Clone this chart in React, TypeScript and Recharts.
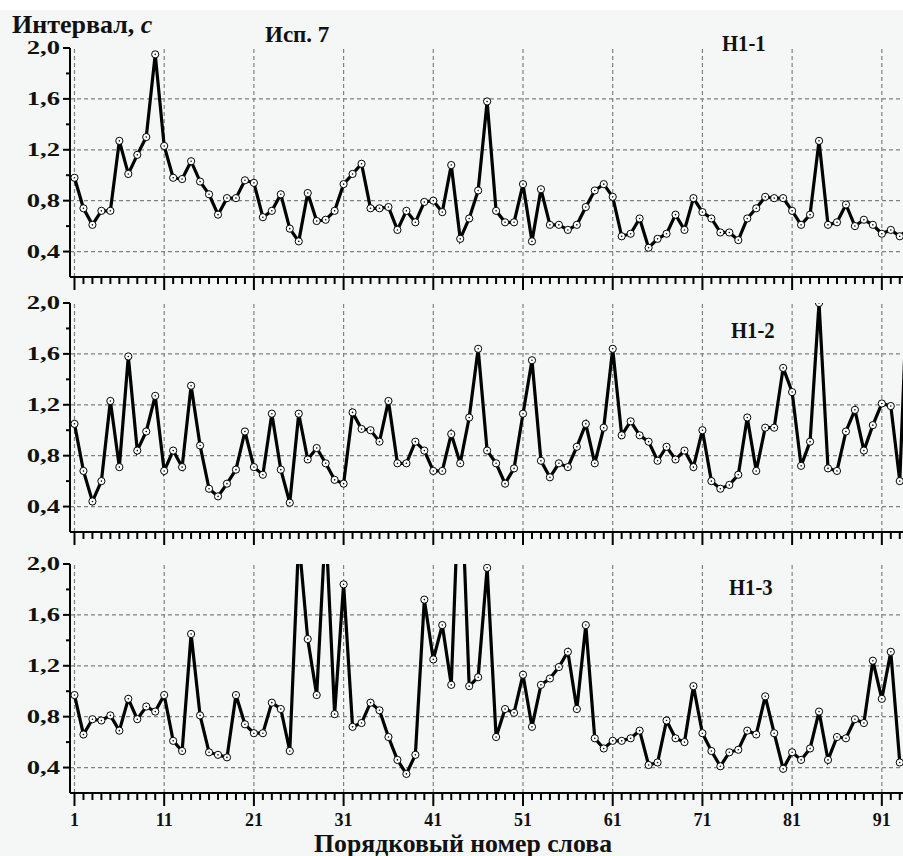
import React from 'react';
import { LineChart, Line, XAxis, YAxis, ReferenceLine } from 'recharts';

// Интервалы между словами, с (порядковый номер слова 1..)
const h11 = [
  0.98, 0.74, 0.61, 0.72, 0.72, 1.27, 1.01, 1.16, 1.30, 1.95,
  1.23, 0.98, 0.97, 1.11, 0.95, 0.85, 0.69, 0.82, 0.82, 0.96,
  0.94, 0.67, 0.72, 0.85, 0.58, 0.48, 0.86, 0.64, 0.65, 0.72,
  0.93, 1.01, 1.09, 0.74, 0.74, 0.75, 0.57, 0.72, 0.63, 0.79,
  0.80, 0.71, 1.08, 0.50, 0.66, 0.88, 1.58, 0.72, 0.63, 0.63,
  0.93, 0.48, 0.89, 0.61, 0.61, 0.57, 0.61, 0.75, 0.88, 0.93,
  0.83, 0.52, 0.54, 0.66, 0.43, 0.50, 0.54, 0.69, 0.57, 0.82,
  0.71, 0.66, 0.55, 0.55, 0.49, 0.66, 0.74, 0.83, 0.82, 0.82,
  0.72, 0.61, 0.69, 1.27, 0.61, 0.63, 0.77, 0.60, 0.65, 0.61,
  0.54, 0.57, 0.52, 0.58,
];

const h12 = [
  1.05, 0.68, 0.44, 0.60, 1.23, 0.71, 1.58, 0.84, 0.99, 1.27,
  0.68, 0.84, 0.71, 1.35, 0.88, 0.54, 0.48, 0.58, 0.69, 0.99,
  0.71, 0.65, 1.13, 0.69, 0.43, 1.13, 0.77, 0.86, 0.74, 0.61,
  0.58, 1.14, 1.01, 1.00, 0.91, 1.23, 0.74, 0.74, 0.91, 0.84,
  0.68, 0.68, 0.97, 0.74, 1.10, 1.64, 0.84, 0.74, 0.58, 0.70,
  1.13, 1.55, 0.76, 0.63, 0.74, 0.71, 0.87, 1.05, 0.74, 1.02,
  1.64, 0.96, 1.07, 0.96, 0.91, 0.76, 0.87, 0.77, 0.84, 0.71,
  1.00, 0.60, 0.54, 0.57, 0.65, 1.10, 0.68, 1.02, 1.02, 1.49,
  1.30, 0.72, 0.91, 2.00, 0.70, 0.68, 0.99, 1.16, 0.84, 1.04,
  1.21, 1.19, 0.60, 2.40,
];

const h13 = [
  0.97, 0.66, 0.78, 0.77, 0.81, 0.69, 0.94, 0.78, 0.88, 0.84,
  0.97, 0.61, 0.53, 1.45, 0.81, 0.52, 0.50, 0.48, 0.97, 0.74,
  0.67, 0.67, 0.91, 0.86, 0.53, 2.20, 1.41, 0.97, 2.33, 0.82,
  1.84, 0.72, 0.75, 0.91, 0.85, 0.64, 0.46, 0.35, 0.50, 1.72,
  1.25, 1.52, 1.05, 2.90, 1.04, 1.11, 1.97, 0.64, 0.86, 0.83,
  1.13, 0.72, 1.05, 1.10, 1.19, 1.31, 0.86, 1.52, 0.63, 0.55,
  0.61, 0.61, 0.63, 0.69, 0.42, 0.44, 0.77, 0.63, 0.60, 1.04,
  0.67, 0.53, 0.41, 0.52, 0.54, 0.69, 0.66, 0.96, 0.67, 0.39,
  0.52, 0.46, 0.55, 0.84, 0.46, 0.64, 0.63, 0.78, 0.75, 1.24,
  0.94, 1.31, 0.44,
];

const xTicks = Array.from({ length: 93 }, (_, k) => k + 1);
const xGrid = [1, 11, 21, 31, 41, 51, 61, 71, 81, 91];
const yTicks = [0.4, 0.6, 0.8, 1.0, 1.2, 1.4, 1.6, 1.8, 2.0];
const yGrid = [0.4, 0.8, 1.2, 1.6];

const FONT = '"Liberation Serif", "Times New Roman", serif';
const INK = '#111';

const toRows = (vals: number[]) => vals.map((v, k) => ({ i: k + 1, v }));

const XTick = (props: any) => {
  const { x, y, payload, labels } = props;
  const major = (payload.value - 1) % 10 === 0;
  return (
    <g>
      <line x1={x} x2={x} y1={y} y2={y + (major ? 13 : 7)} stroke="#000" strokeWidth={2} />
      {labels && major && (
        <text x={x} y={y + 33} textAnchor="middle" fontFamily={FONT} fontWeight="bold" fontSize={18} fill={INK}>
          {payload.value}
        </text>
      )}
    </g>
  );
};

const YTick = (props: any) => {
  const { x, y, payload } = props;
  const major = Math.round(payload.value * 10) % 4 === 0;
  return (
    <g>
      <line x1={x - (major ? 7 : 4)} x2={x} y1={y} y2={y} stroke="#000" strokeWidth={2} />
      {major && (
        <text
          transform={`translate(${x - 10},${y}) scale(1.44,1)`}
          dy="0.35em"
          textAnchor="end"
          fontFamily={FONT}
          fontWeight="bold"
          fontSize={18.5}
          fill={INK}
        >
          {payload.value.toFixed(1).replace('.', ',')}
        </text>
      )}
    </g>
  );
};

const renderDot = (p: any) => {
  if (p.cx == null || p.cy == null) return <g key={`d${p.index}`} />;
  return (
    <g key={`d${p.index}`}>
      <circle cx={p.cx} cy={p.cy} r={3.6} fill="#fff" stroke="#000" strokeWidth={1} />
      <circle cx={p.cx} cy={p.cy} r={0.8} fill="#000" />
    </g>
  );
};

const Panel = ({ vals, top, labels }: { vals: number[]; top: number; labels?: boolean }) => {
  const axisH = labels ? 50 : 22;
  return (
    <div style={{ position: 'absolute', left: 0, top: top - 40 }}>
      <LineChart width={903} height={40 + 229 + axisH} data={toRows(vals)} margin={{ top: 40, right: 0, left: 0, bottom: 0 }}>
        {yGrid.map(v => (
          <ReferenceLine key={`gy${v}`} y={v} stroke="#808080" strokeWidth={1.2} strokeDasharray="4 3" />
        ))}
        {xGrid.map(v => (
          <ReferenceLine key={`gx${v}`} x={v} stroke="#808080" strokeWidth={1.2} strokeDasharray="4 3" />
        ))}
        <XAxis
          type="number"
          dataKey="i"
          domain={[0.5, 93.36]}
          allowDataOverflow
          ticks={xTicks}
          interval={0}
          tickSize={0}
          tickMargin={0}
          height={axisH}
          axisLine={{ stroke: '#000', strokeWidth: 2 }}
          tick={(t: any) => <XTick {...t} labels={labels} />}
        />
        <YAxis
          type="number"
          domain={[0.2, 2.0]}
          allowDataOverflow
          ticks={yTicks}
          interval={0}
          tickSize={0}
          tickMargin={0}
          width={70}
          axisLine={{ stroke: '#000', strokeWidth: 2 }}
          tick={(t: any) => <YTick {...t} />}
        />
        <Line type="linear" dataKey="v" stroke="#000" strokeWidth={3.2} dot={renderDot} isAnimationActive={false} />
      </LineChart>
    </div>
  );
};

const label = (text: React.ReactNode, left: number, top: number, size: number, sx = 1, lh = 1) => (
  <div
    style={{
      position: 'absolute', left, top, fontFamily: FONT, fontWeight: 'bold',
      fontSize: size, color: INK, lineHeight: lh, whiteSpace: 'nowrap',
      transform: `scaleX(${sx})`, transformOrigin: 'left top',
    }}
  >
    {text}
  </div>
);

export default function App() {
  return (
    <div style={{ position: 'relative', width: 903, height: 856, background: '#f5f7f7', overflow: 'hidden' }}>
      <style>{'body{margin:0}'}</style>
      <div style={{ position: 'absolute', left: 0, top: 0, width: 903, height: 10, background: '#fff' }} />
      <Panel vals={h11} top={48} />
      <Panel vals={h12} top={303} />
      <Panel vals={h13} top={564} labels />
      {label(<>Интервал, <i>с</i></>, 12, 14.5, 26, 1, 0.8)}
      {label('Исп. 7', 265, 23, 23)}
      {label('Н1-1', 722, 32, 23, 0.9)}
      {label('Н1-2', 731, 319, 23, 0.9)}
      {label('Н1-3', 729, 576, 23, 0.9)}
      {label('Порядковый номер слова', 314, 833, 25, 1.03, 0.9)}
    </div>
  );
}
